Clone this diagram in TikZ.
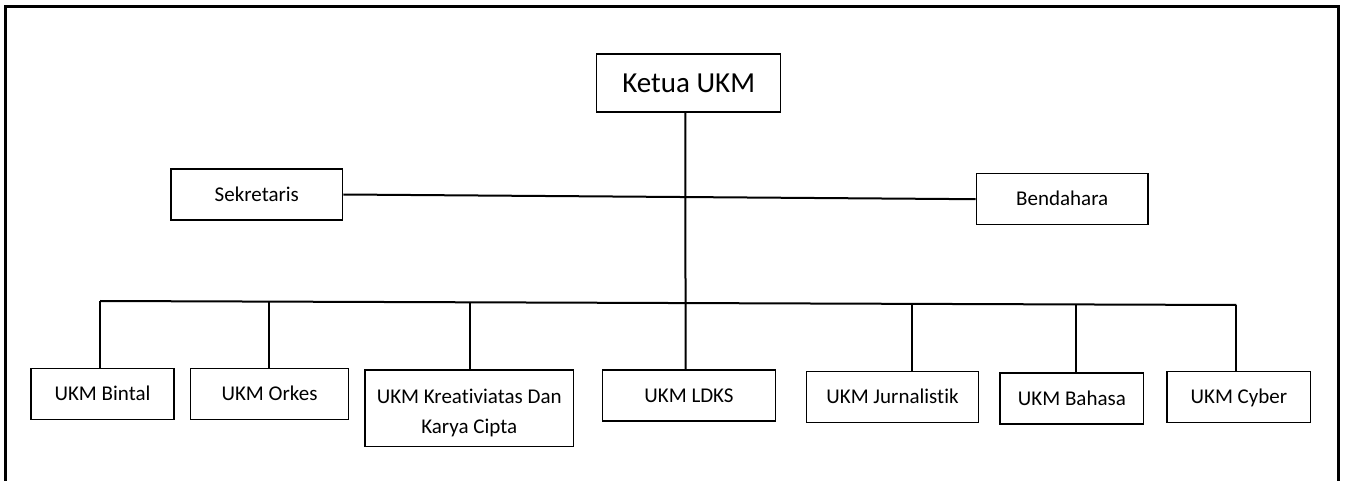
\documentclass[tikz,border=0pt]{standalone}
\usepackage{fontspec}
\setmainfont{Carlito}[Ligatures=NoCommon]
\usetikzlibrary{calc}
\tikzset{
  boxbase/.style={draw, line width=1.3pt, rectangle, inner sep=0pt, font=\fontsize{21}{30.7}\selectfont},
  box/.style={boxbase, text height=18.9pt, text depth=5.46pt},
  bigbox/.style={boxbase, font=\fontsize{29}{34}\selectfont, text height=26.1pt, text depth=7.54pt},
  link/.style={draw, line width=2pt},
  frame/.style={draw, line width=2.6pt}
}
\begin{document}
\begin{tikzpicture}[x=1pt,y=-1pt]
\useasboundingbox (0,0) rectangle (1345,481);
% outer frame (bottom edge outside view)
\draw[frame] (5.5,481) -- (5.5,6.5) -- (1338.5,6.5) -- (1338.5,481);

\node[bigbox, minimum width=184pt, minimum height=58pt] (ketua) at (688.7,83) {Ketua UKM};
\node[box, minimum width=171.7pt, minimum height=51pt] (sek) at (256.8,194.5) {Sekretaris};
\node[box, minimum width=171.7pt, minimum height=51pt] (bend) at (1062.2,199.2) {Bendahara};

\node[box, minimum width=143pt, minimum height=51pt] (bintal) at (102.5,393.8) {UKM Bintal};
\node[box, minimum width=158.4pt, minimum height=51pt] (orkes) at (269.5,393.8) {UKM Orkes};
\node[boxbase, minimum width=208.3pt, minimum height=76.7pt, text height=20pt, text depth=30pt] (kreat) at (469.2,408.3)
  {\renewcommand\arraystretch{1}\begin{tabular}[t]{@{}c@{}}UKM Kreativiatas Dan\\Karya Cipta\end{tabular}};
\node[box, minimum width=172.6pt, minimum height=51pt] (ldks) at (689,395.5) {UKM LDKS};
\node[box, minimum width=171.6pt, minimum height=51pt] (jurn) at (892.5,397.2) {UKM Jurnalistik};
\node[box, minimum width=143.7pt, minimum height=51pt] (bahasa) at (1071.9,398.5) {UKM Bahasa};
\node[box, minimum width=143.7pt, minimum height=51.4pt] (cyber) at (1238.9,397) {UKM Cyber};

% bus coordinates
\coordinate (busL) at (100,301);
\coordinate (busR) at (1236.3,305);
\coordinate (dO) at (269,301.6);
\coordinate (dK) at (470,302.3);
\coordinate (dJ) at (911.7,303.9);
\coordinate (dB) at (1075.7,304.4);

% trunk
\draw[link] ([xshift=-3.4pt]ketua.south) -- ([xshift=-3.4pt]ldks.north);
% staff line
\draw[link] (sek.east) -- (bend.west);
% bus
\draw[link] (busL) -- (busR);
\draw[link] (busL) -- (busL |- bintal.north);
\draw[link] (dO) -- (dO |- orkes.north);
\draw[link] (dK) -- (dK |- kreat.north);
\draw[link] (dJ) -- (dJ |- jurn.north);
\draw[link] (dB) -- (dB |- bahasa.north);
\draw[link] (busR) -- (busR |- cyber.north);
\end{tikzpicture}
\end{document}
